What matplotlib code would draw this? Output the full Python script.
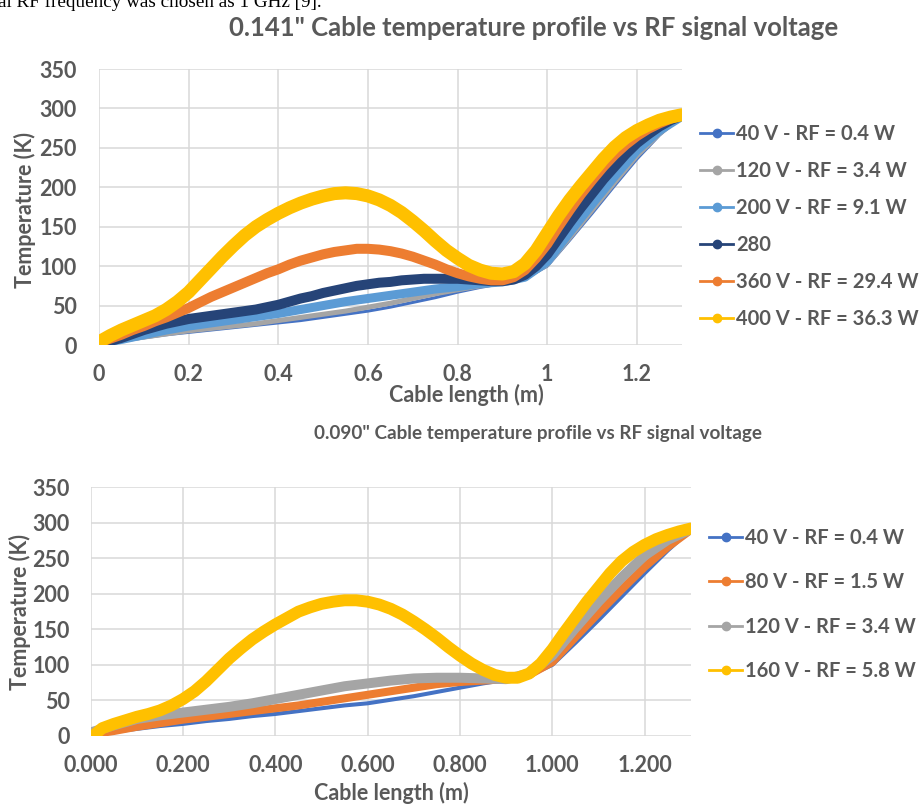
import matplotlib.pyplot as plt
from matplotlib.lines import Line2D

W, H = 922, 806
GREY_TXT = '#595959'
FONT = 'Lato'

# positions along the cable (m)
x_coarse = [0, 0.05, 0.1, 0.15, 0.2, 0.25, 0.3, 0.35, 0.4, 0.45, 0.5, 0.55, 0.6,
            0.65, 0.7, 0.75, 0.8, 0.85, 0.9, 0.95, 1.0, 1.05, 1.1, 1.15, 1.2, 1.25, 1.3]
x_fine = [0, 0.025, 0.05, 0.075, 0.1, 0.125, 0.15, 0.175, 0.2, 0.225, 0.25, 0.275,
          0.3, 0.325, 0.35, 0.375, 0.4, 0.425, 0.45, 0.475, 0.5, 0.525, 0.55, 0.575,
          0.6, 0.625, 0.65, 0.675, 0.7, 0.725, 0.75, 0.775, 0.8, 0.825, 0.85, 0.875,
          0.9, 0.925, 0.95, 0.975, 1.0, 1.025, 1.05, 1.075, 1.1, 1.125, 1.15, 1.175,
          1.2, 1.225, 1.25, 1.275, 1.3]

# ---- 0.141" cable (top chart) ----
top_40 = [2, 5, 9, 13, 16, 19, 22, 25, 28, 31, 35, 39, 43, 48, 54, 60, 67, 73, 78,
          84, 100, 133, 167, 202, 236, 266, 290]
top_120 = [2, 6, 10, 14, 18, 21, 24, 27, 31, 35, 39, 43, 48, 53, 59, 65, 70, 75, 79,
           85, 102, 136, 171, 206, 240, 268, 290]
top_200 = [2, 7, 13, 19, 24, 28, 32, 36, 40, 45, 50, 55, 59, 63, 67, 71, 74, 78, 80,
           86, 106, 143, 179, 214, 247, 272, 290]
top_280 = [2, 5, 9, 14, 19, 23, 27, 30, 33, 35, 37, 39, 41, 43, 45, 48, 51, 55, 59,
           62, 66, 69, 72, 75, 77, 79, 80, 82, 83, 84, 84, 84, 84, 83, 82, 81, 81, 83,
           89, 100, 115, 135, 155, 174, 192, 210, 226, 242, 256, 267, 277, 285, 291]
top_360 = [3, 8, 13, 19, 24, 30, 35, 41, 47, 54, 61, 67, 73, 79, 85, 91, 96, 102, 107,
           111, 115, 118, 120, 122, 122, 121, 119, 116, 112, 107, 102, 96, 91, 87, 84,
           82, 82, 86, 95, 110, 128, 150, 171, 191, 209, 226, 241, 254, 265, 274, 281,
           287, 291]
top_400 = [4, 12, 19, 25, 31, 37, 45, 55, 67, 82, 97, 112, 126, 139, 150, 159, 167,
           174, 180, 185, 189, 192, 193, 192, 189, 184, 177, 168, 157, 145, 132, 120,
           110, 101, 95, 91, 90, 93, 103, 120, 142, 164, 184, 202, 219, 236, 251, 263,
           272, 279, 285, 289, 292]
top_labels = ['40 V - RF = 0.4 W', '120 V - RF = 3.4 W', '200 V - RF = 9.1 W', '280',
              '360 V - RF = 29.4 W', '400 V - RF = 36.3 W']
top_ticks = ['0', '0.2', '0.4', '0.6', '0.8', '1', '1.2']

# ---- 0.090" cable (bottom chart) ----
x_bot_160 = [0.005] + x_fine[1:]
bot_40 = [2, 6, 10, 14, 17, 21, 24, 28, 31, 35, 39, 43, 46, 51, 56, 62, 68, 74, 79,
          85, 100, 131, 163, 196, 229, 261, 290]
bot_80 = [2, 7, 13, 18, 23, 27, 31, 35, 39, 43, 48, 53, 58, 63, 68, 73, 76, 78, 80,
          86, 104, 139, 173, 206, 238, 266, 290]
bot_120 = [5, 15, 24, 29, 33, 37, 41, 46, 52, 58, 64, 70, 74, 78, 81, 82, 82, 81, 80,
           88, 113, 152, 189, 223, 254, 276, 291]
bot_160 = [0, 11, 17, 22, 27, 31, 36, 43, 52, 63, 77, 93, 109, 123, 136, 147, 157,
           166, 175, 181, 186, 189, 191, 191, 189, 185, 179, 171, 161, 150, 138, 125,
           113, 102, 93, 86, 82, 82, 88, 102, 122, 145, 167, 189, 209, 229, 246, 259,
           269, 277, 283, 288, 292]
bot_labels = ['40 V - RF = 0.4 W', '80 V - RF = 1.5 W', '120 V - RF = 3.4 W',
              '160 V - RF = 5.8 W']
bot_ticks = ['0.000', '0.200', '0.400', '0.600', '0.800', '1.000', '1.200']

fig = plt.figure(figsize=(W / 100, H / 100), dpi=100)


def style_axes(ax, ticklabels, xpad, ypad):
    ax.set_xlim(0, 1.3)
    ax.set_ylim(0, 350)
    ax.set_xticks([0, 0.2, 0.4, 0.6, 0.8, 1.0, 1.2])
    ax.set_xticklabels(ticklabels)
    ax.set_yticks(range(0, 351, 50))
    ax.grid(True, color='#d9d9d9', lw=1.1)
    ax.set_axisbelow(True)
    for s in ax.spines.values():
        s.set_visible(False)
    ax.tick_params(length=0, labelsize=15.5, labelcolor=GREY_TXT)
    ax.tick_params(axis='x', pad=xpad)
    ax.tick_params(axis='y', pad=ypad)
    for lab in ax.get_xticklabels() + ax.get_yticklabels():
        lab.set_fontfamily(FONT)
        lab.set_fontweight('bold')


def legend(ax, colors, labels, x, y, spacing):
    handles = [Line2D([], [], color=c, lw=2, marker='o', markersize=6) for c in colors]
    ax.legend(handles, labels, loc='upper left', bbox_to_anchor=(x / W, 1 - y / H),
              bbox_transform=fig.transFigure, frameon=False, borderpad=0,
              borderaxespad=0, handlelength=1.65, handletextpad=0.15,
              labelspacing=spacing, labelcolor=GREY_TXT,
              prop={'family': FONT, 'weight': 'bold', 'size': 14.5})


def draw(ax, x, t, color, width):
    ax.plot(x, t, color=color, lw=width, solid_capstyle='round', solid_joinstyle='round')


# top chart
ax1 = fig.add_axes([99 / W, 1 - 345 / H, 582.8 / W, 276 / H])
style_axes(ax1, top_ticks, 14, 16)
top_colors = ['#4472C4', '#A5A5A5', '#5B9BD5', '#264478', '#ED7D31', '#FFC000']
draw(ax1, x_coarse, top_40, top_colors[0], 2.2)
draw(ax1, x_coarse, top_120, top_colors[1], 3.6)
draw(ax1, x_coarse, top_200, top_colors[2], 6.5)
draw(ax1, x_fine, top_280, top_colors[3], 7.2)
draw(ax1, x_fine, top_360, top_colors[4], 7.2)
draw(ax1, x_fine, top_400, top_colors[5], 9.4)
legend(ax1, top_colors, top_labels, 700, 124, 0.84)

# bottom chart
ax2 = fig.add_axes([90.7 / W, 1 - 736 / H, 600.1 / W, 248.7 / H])
style_axes(ax2, bot_ticks, 14, 15)
bot_colors = ['#4472C4', '#ED7D31', '#A5A5A5', '#FFC000']
draw(ax2, x_coarse, bot_40, bot_colors[0], 2.9)
draw(ax2, x_coarse, bot_80, bot_colors[1], 5.8)
draw(ax2, x_coarse, bot_120, bot_colors[2], 7.2)
draw(ax2, x_bot_160, bot_160, bot_colors[3], 8.6)
legend(ax2, bot_colors, bot_labels, 709, 528, 1.21)

# titles and axis labels
txt = dict(family=FONT, weight='bold', color=GREY_TXT, ha='center', va='center')
fig.text(534 / W, 1 - 28 / H, '0.141" Cable temperature profile vs RF signal voltage', size=18.5, **txt)
fig.text(538 / W, 1 - 434 / H, '0.090" Cable temperature profile vs RF signal voltage', size=13.6, **txt)
fig.text(466 / W, 1 - 395 / H, 'Cable length (m)', size=15.5, **txt)
fig.text(391 / W, 1 - 793 / H, 'Cable length (m)', size=15.5, **txt)
fig.text(25 / W, 1 - 210 / H, 'Temperature (K)', size=15.5, rotation=90, **txt)
fig.text(20 / W, 1 - 612 / H, 'Temperature (K)', size=15.5, rotation=90, **txt)

# cut-off line of document text above the chart (cropped in the source image)
fig.text(-2 / W, 1 - 7 / H, 'al RF frequency was chosen as 1 GHz [9].', family='Liberation Serif',
         size=13.8, color='black', ha='left', va='baseline')

plt.savefig('out.png', dpi=100)
